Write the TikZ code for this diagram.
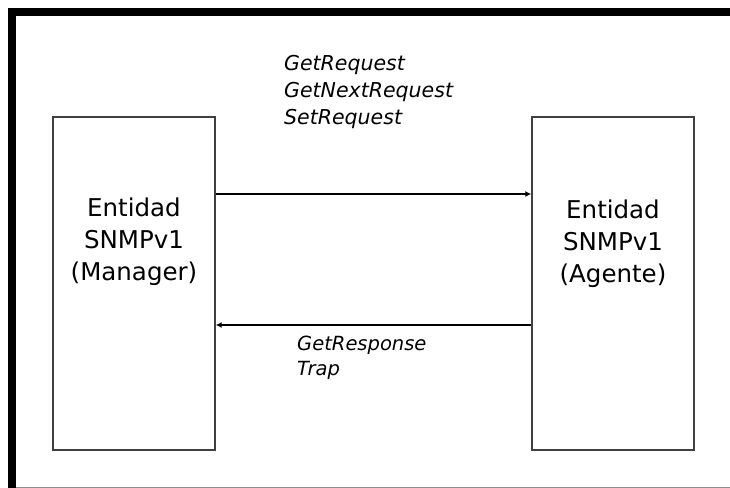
\documentclass[tikz,border=0pt]{standalone}
\usepackage{fontspec}
\setmainfont{DejaVu Sans}
\usetikzlibrary{arrows.meta}

\tikzset{
  entidad/.style = {draw=black!75, line width=1.4bp, minimum width=162bp, minimum height=333bp, inner sep=0},
  entlabel/.style = {anchor=north, align=center, inner sep=0, font=\fontsize{24.5bp}{32bp}\selectfont},
  pdulabel/.style = {anchor=north west, align=left, inner sep=0},
  pdu/.style = {line width=1.2bp, -{Latex[length=6bp,width=6bp]}}
}

\begin{document}
\begin{tikzpicture}[x=1bp,y=1bp]
    \useasboundingbox (0,0) rectangle (730,488);
    % frame
    \fill (8,472) rectangle (730,480);
    \fill (8,0) rectangle (16,480);
    \draw[black!45, line width=1bp] (16,0.5) -- (730,0.5);

    % the two entities
    \node[entidad] (manager) at (134,204.5) {};
    \node[entidad] (agente) at (613,204.5) {};
    \node[entlabel] (mgrtext) at ([yshift=85.5bp]manager.center) {Entidad\\SNMPv1\\(Manager)};
    \node[entlabel] (agttext) at ([yshift=84bp]agente.center) {Entidad\\SNMPv1\\(Agente)};

    % requests and responses
    \draw[pdu] ([yshift=89.5bp]manager.east) -- ([yshift=89.5bp]agente.west);
    \draw[pdu] ([yshift=-41.5bp]agente.west) -- ([yshift=-41.5bp]manager.east);
    \node[pdulabel, font=\fontsize{20.5bp}{27bp}\selectfont\itshape] (req) at (284,432.5)
        {GetRequest\\GetNextRequest\\SetRequest};
    \node[pdulabel, font=\fontsize{19.5bp}{25bp}\selectfont\itshape] (resp) at (297,152.2)
        {GetResponse\\Trap};
\end{tikzpicture}
\end{document}
